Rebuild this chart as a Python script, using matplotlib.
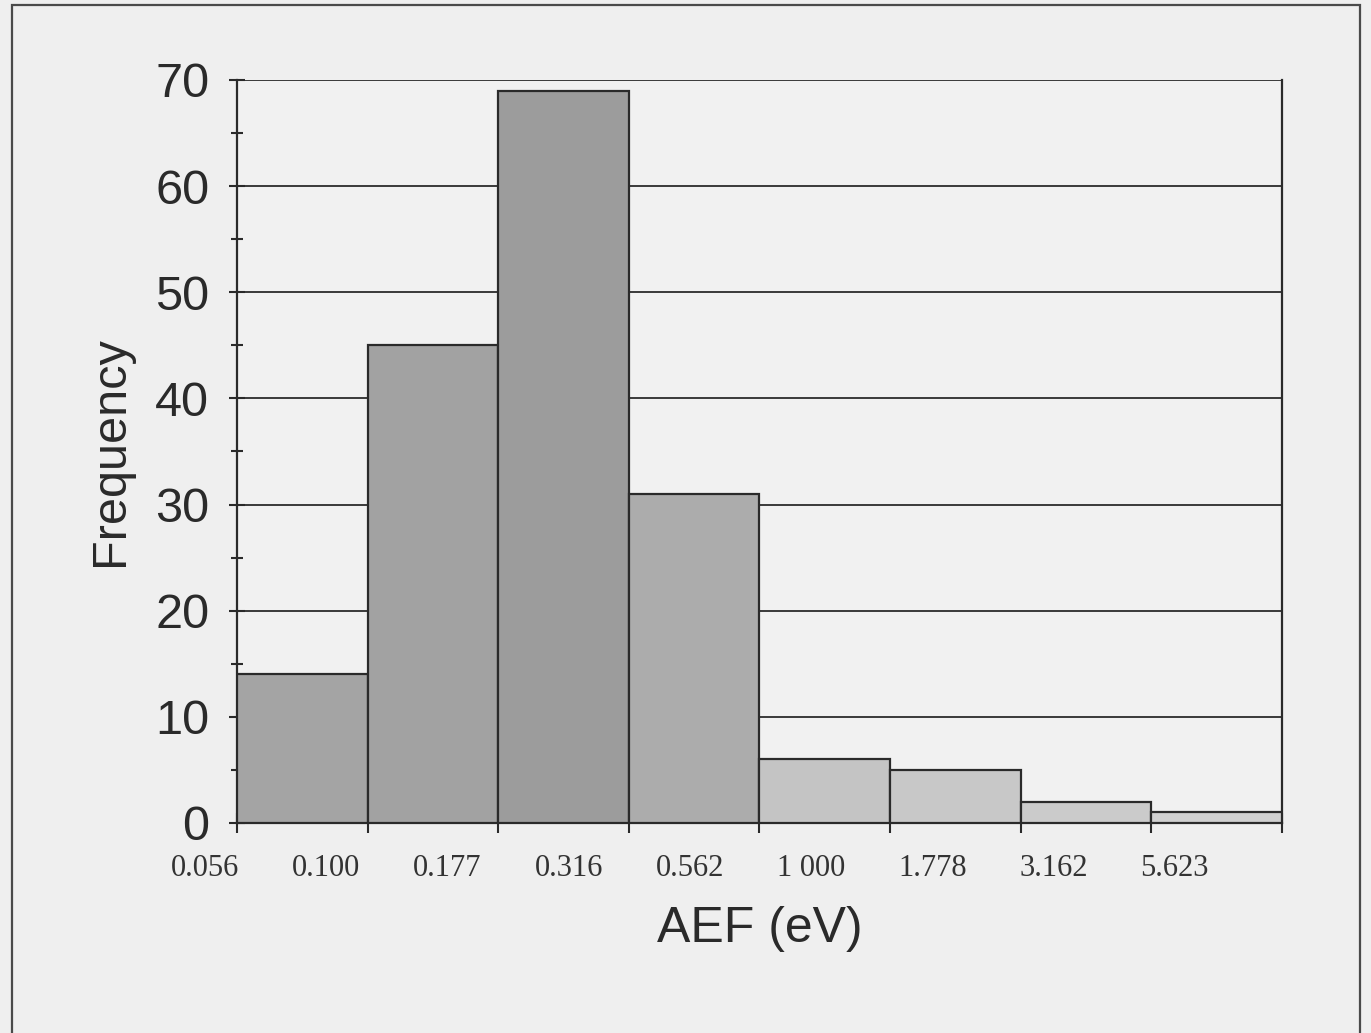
import matplotlib
matplotlib.use("Agg")
import matplotlib.pyplot as plt
from matplotlib.patches import Rectangle

# Histogram of AEF values in logarithmic bins
bin_labels = ["0.056", "0.100", "0.177", "0.316", "0.562",
              "1 000", "1.778", "3.162", "5.623"]
frequency = [14, 45, 69, 31, 6, 5, 2, 1]
bar_shades = ["#a4a4a4", "#a2a2a2", "#9c9c9c", "#acacac",
              "#c4c4c4", "#c8c8c8", "#cbcbcb", "#d0d0d0"]

fig = plt.figure(figsize=(13.71, 10.33), dpi=100, facecolor="#efefef")
ax = fig.add_axes([0.1729, 0.2033, 0.7621, 0.7193])
ax.set_facecolor("#f1f1f1")

positions = list(range(len(frequency)))
ax.bar(positions, frequency, width=1.0, align="edge",
       color=bar_shades, edgecolor="#2a2a2a", linewidth=1.6, zorder=3)

ax.set_xlim(0, len(frequency))
ax.set_ylim(0, 70)

# gridlines
ax.set_yticks(range(0, 71, 10))
ax.set_yticks(range(5, 70, 10), minor=True)
ax.yaxis.grid(True, which="major", color="#3a3a3a", linewidth=1.4, zorder=1)
ax.set_axisbelow(True)

ax.set_yticklabels([str(v) for v in range(0, 71, 10)],
                   fontfamily="Liberation Sans", fontsize=35, color="#2a2a2a")
ax.tick_params(axis="y", which="major", direction="inout", length=12,
               width=1.5, color="#2a2a2a", pad=14)
ax.tick_params(axis="y", which="minor", direction="inout", length=8,
               width=1.5, color="#2a2a2a")

# bin edge ticks with labels placed beneath
ax.set_xticks(range(0, len(frequency) + 1))
ax.set_xticklabels([])
ax.tick_params(axis="x", direction="inout", length=14, width=1.5,
               color="#2a2a2a")
for i, lab in enumerate(bin_labels):
    ax.text(-0.245 + 0.928 * i, -4.3, lab, ha="center", va="center",
            fontfamily="Liberation Serif", fontsize=22, color="#333333",
            clip_on=False)

for side in ["left", "right", "bottom"]:
    ax.spines[side].set_color("#2a2a2a")
    ax.spines[side].set_linewidth(1.6)
ax.spines["top"].set_visible(False)

ax.set_ylabel("Frequency", fontfamily="Liberation Sans", fontsize=35,
              color="#2a2a2a", labelpad=16)
ax.text(4.0, -10.0, "AEF (eV)", ha="center", va="center",
        fontfamily="Liberation Sans", fontsize=36, color="#2a2a2a",
        clip_on=False)

# outer frame
fig.patches.append(Rectangle((0.009, -0.01), 0.983, 1.005,
                             transform=fig.transFigure, fill=False,
                             edgecolor="#4a4a4a", linewidth=1.6))

fig.savefig("out.png", dpi=100, facecolor=fig.get_facecolor())
